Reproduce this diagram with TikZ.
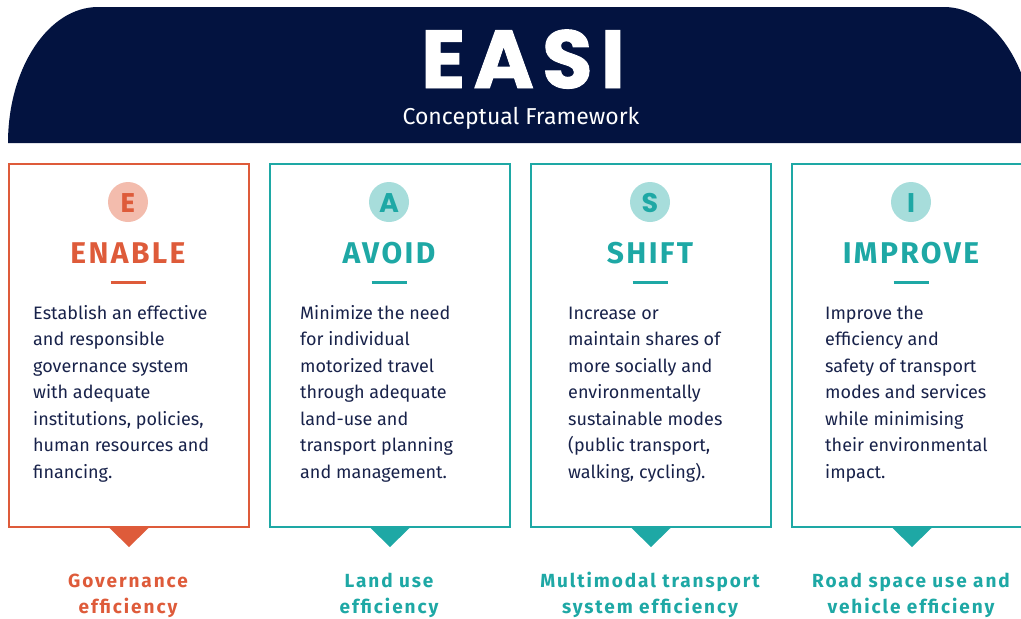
\documentclass[tikz,border=0pt]{standalone}
\usepackage{fontspec}
\setmainfont{Fira Sans}
\newfontfamily\easifont{Poppins}[LetterSpace=10,FakeBold=1.2]
\newfontfamily\circfont{Poppins}
\newfontfamily\titlefont{Fira Sans}[LetterSpace=8]
\newfontfamily\labfont{Fira Sans}[LetterSpace=10]
\newfontfamily\bodyfont{Fira Sans}
\definecolor{navy}{RGB}{3,19,64}
\definecolor{orng}{RGB}{222,91,58}
\definecolor{salmon}{RGB}{243,188,173}
\definecolor{teal}{RGB}{30,168,165}
\definecolor{lteal}{RGB}{167,221,219}
\definecolor{bodyc}{RGB}{24,34,74}
\tikzset{
  box/.style={draw=#1, line width=2pt, minimum width=240pt, minimum height=363pt, anchor=north west, inner sep=0pt},
  disc/.style={circle, fill=#1, minimum size=40pt, inner sep=0pt},
  letter/.style={text=#1, anchor=base, inner sep=0pt, font=\circfont\bfseries\fontsize{27}{27}\selectfont},
  title/.style={text=#1, anchor=base, inner sep=0pt, font=\titlefont\bfseries\fontsize{30}{30}\selectfont},
  body/.style={text=bodyc, anchor=base west, inner sep=0pt, font=\bodyfont\fontsize{18}{18}\selectfont},
  lab/.style={text=#1, anchor=base, inner sep=0pt, font=\labfont\bfseries\fontsize{19}{19}\selectfont},
  rule/.style={draw=#1, line width=3pt}
}
\newcommand\bodylines[3]{%
  \foreach \t [count=\i] in {#3} \node[body] (#2\i) at (#1,{319+26.5*(\i-1)}) {\t};}
\newcommand\column[6]{% #1 prefix, #2 left x, #3 colour, #4 disc colour, #5 letter, #6 title
  \node[box=#3] (#1box) at (#2,163) {};
  \fill[#3] ([xshift=-19.5pt]#1box.south) -- ([xshift=19.5pt]#1box.south) -- ([yshift=-19pt]#1box.south) -- cycle;
  \node[disc=#4] (#1disc) at (#2+120,202) {};
  \node[letter=#3] (#1let) at (#2+120,212) {#5};
  \node[title=#3] (#1title) at (#2+120,263) {#6};
  \draw[rule=#3] (#2+102.5,282) -- (#2+137.5,282);
}
\begin{document}
\begin{tikzpicture}[x=1pt,y=-1pt]
\useasboundingbox (0,0) rectangle (1021,619);
\clip (0,0) rectangle (1021,619);
\fill[navy] (8,143) .. controls (8,68) and (48.5,7) .. (98,7) -- (944,7) .. controls (993.5,7) and (1034,68) .. (1034,143) -- cycle;
\node[text=white, anchor=base, inner sep=0pt, text depth=0pt, font=\easifont\bfseries\fontsize{82}{82}\selectfont] (easi) at (523,88) {EASI};
\node[text=white, anchor=base, inner sep=0pt, font=\fontsize{23}{23}\selectfont] (sub) at (521,124) {Conceptual Framework};

\column{e}{8}{orng}{salmon}{E}{ENABLE}
\column{a}{269}{teal}{lteal}{A}{AVOID}
\column{s}{530}{teal}{lteal}{S}{SHIFT}
\column{i}{791}{teal}{lteal}{I}{IMPROVE}

\bodylines{33}{et}{Establish an effective, and responsible, governance system, with adequate, {institutions, policies,}, human resources and, financing.}
\bodylines{300}{at}{Minimize the need, for individual, motorized travel, through adequate, land-use and, transport planning, and management.}
\bodylines{568}{st}{Increase or, maintain shares of, more socially and, environmentally, sustainable modes, {(public transport,}, {walking, cycling).}}
\bodylines{825}{it}{Improve the, efficiency and, safety of transport, modes and services, while minimising, their environmental, impact.}

\node[lab=orng] (el1) at (128,587) {Governance};
\node[lab=orng] (el2) at (128,613) {efficiency};
\node[lab=teal] (al1) at (389,587) {Land use};
\node[lab=teal] (al2) at (389,613) {efficiency};
\node[lab=teal] (sl1) at (650,587) {Multimodal transport};
\node[lab=teal] (sl2) at (650,613) {system efficiency};
\node[lab=teal] (il1) at (911,587) {Road space use and};
\node[lab=teal] (il2) at (911,613) {vehicle efficieny};
\end{tikzpicture}
\end{document}
